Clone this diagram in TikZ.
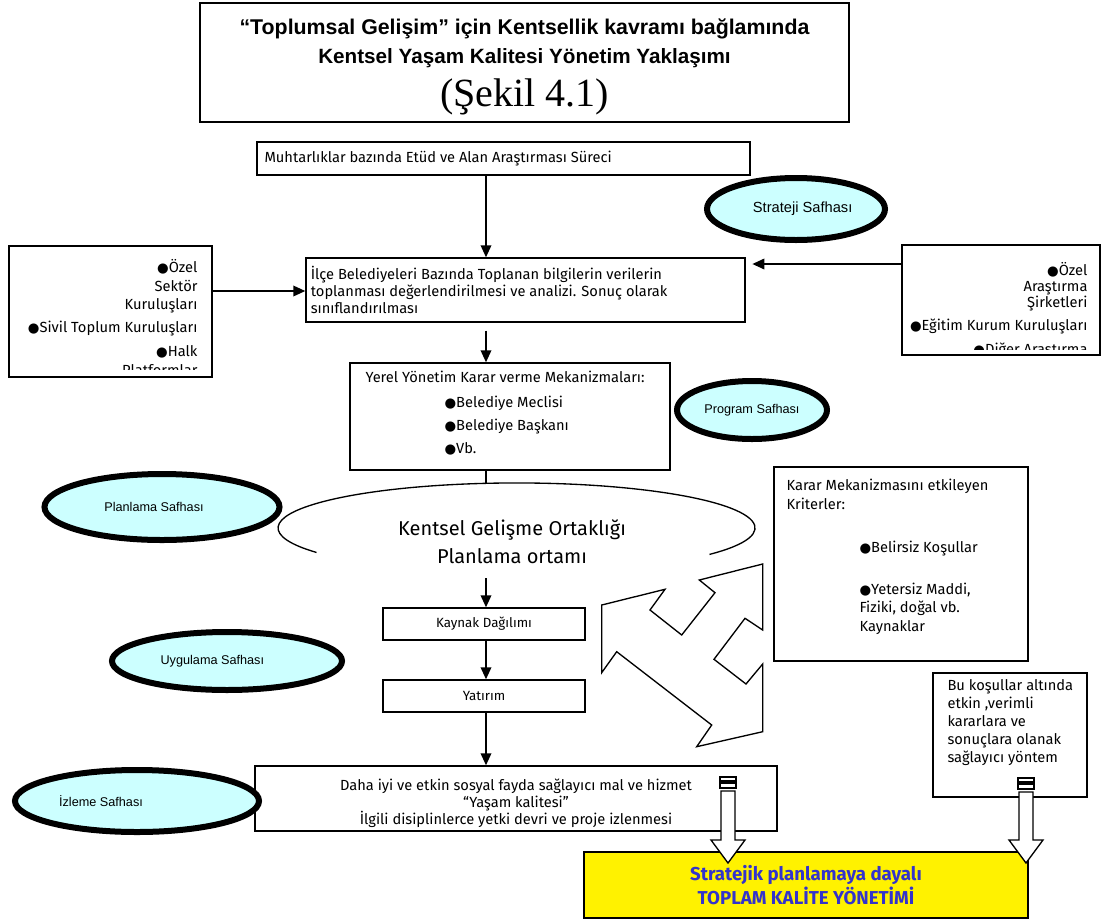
\documentclass[tikz,border=0pt]{standalone}
\usepackage{fontspec}
\setmainfont{Fira Sans}
\newfontfamily\arialf{Liberation Sans}
\newfontfamily\timesf{Liberation Serif}
\newfontfamily\symf{DejaVu Sans}
\usetikzlibrary{shapes.geometric,positioning,calc,arrows.meta}
\definecolor{phasecyan}{HTML}{CCFFFF}
\definecolor{tkyblue}{RGB}{51,51,204}
\newcommand{\blt}{{\symf\fontsize{10}{10}\selectfont ●}}

\begin{document}
\begin{tikzpicture}[x=0.75pt,y=-0.75pt,
  box/.style={draw,line width=1.1pt,inner sep=0pt},
  txt/.style={font=\fontsize{11}{13}\selectfont,inner sep=0pt},
  phase/.style={ellipse,draw,line width=4.5pt,fill=phasecyan,inner sep=0pt},
  phaselbl/.style={font=\arialf\fontsize{9.5}{11}\selectfont,inner sep=0pt},
  arr/.style={-{Triangle[length=9pt,width=8pt]},line width=1.1pt},
  hollow/.style={draw,fill=white,line width=1pt}]
\useasboundingbox (0,0) rectangle (1108,922);

% title
\node[box,minimum width=486.75pt,minimum height=89.25pt] (title) at (524.5,62.5) {};
\node[anchor=base,inner sep=0pt,font=\arialf\bfseries\fontsize{16}{19}\selectfont] (t1) at (524.5,34)
  {\textquotedblleft Toplumsal Geli\c{s}im\textquotedblright{} i\c{c}in Kentsellik kavram\i{} ba\u{g}lam\i{}nda};
\node[anchor=base,inner sep=0pt,font=\arialf\bfseries\fontsize{15.5}{19}\selectfont] (t2) at (524.5,63)
  {Kentsel Ya\c{s}am Kalitesi Y\"onetim Yakla\c{s}\i{}m\i{}};
\node[anchor=base,inner sep=0pt,font=\timesf\fontsize{30}{32}\selectfont] (t3) at (524.5,106) {(\c{S}ekil 4.1)};

% columns and rows for connectors
\coordinate (colA) at (486,0);
\coordinate (rowA) at (0,291);
\coordinate (rowB) at (0,264);

% stage 1
\node[box,minimum width=369.75pt,minimum height=24.75pt] (muhtar) at (503.5,158.5) {};
\node[txt,anchor=west] (muhtarT) at ([xshift=6pt]muhtar.west) {Muhtarl\i{}klar baz\i{}nda Et\"ud ve Alan Ara\c{s}t\i{}rmas\i{} S\"ureci};

\node[phase,minimum width=133.5pt,minimum height=46.5pt,
  label={[phaselbl,font=\arialf\fontsize{11}{13}\selectfont,xshift=5pt]center:Strateji Safhas\i{}}] (strat) at (796,209) {};

\node[box,minimum width=152.25pt,minimum height=98.25pt] (lbox) at (110.5,311.5) {};
\begin{scope}
\clip (lbox.north west) rectangle ([yshift=6pt]lbox.south east);
\node[txt,anchor=north east,align=right,font=\fontsize{11}{14}\selectfont] (lboxT) at ([shift={(-15,14)}]lbox.north east)
  {\blt\"Ozel\\Sekt\"or\\Kurulu\c{s}lar\i{}\\[3pt]\blt Sivil Toplum Kurulu\c{s}lar\i{}\\[4pt]\blt Halk\\Platformlar};
\end{scope}

\node[box,minimum width=329.25pt,minimum height=48pt] (ilce) at (525.5,290) {};
\node[txt,anchor=west,align=left] (ilceT) at ([xshift=4pt]ilce.west)
  {\.Il\c{c}e Belediyeleri Baz\i{}nda Toplanan bilgilerin verilerin\\toplanmas\i{} de\u{g}erlendirilmesi ve analizi. Sonu\c{c} olarak\\s\i{}n\i{}fland\i{}r\i{}lmas\i{}};

\node[box,minimum width=148.5pt,minimum height=82.5pt] (rbox) at (1001,300) {};
\begin{scope}
\clip (rbox.north west) rectangle ([yshift=5pt]rbox.south east);
\node[txt,anchor=north east,align=right,font=\fontsize{11}{12}\selectfont] (rboxT) at ([shift={(-13,18)}]rbox.north east)
  {\blt\"Ozel\\Ara\c{s}t\i{}rma\\\c{S}irketleri\\[5pt]\blt E\u{g}itim Kurum Kurulu\c{s}lar\i{}\\[6pt]\blt Di\u{g}er Ara\c{s}t\i{}rma};
\end{scope}

\draw[arr] (colA |- muhtar.south) -- (colA |- ilce.north);
\draw[arr] (rowA -| lbox.east) -- (rowA -| ilce.west);
\draw[arr] (rowB -| rbox.west) -- ([xshift=5pt]rowB -| ilce.east);

% stage 2
\node[box,minimum width=240pt,minimum height=80.25pt] (yerel) at (510,416.5) {};
\node[txt,anchor=north west] (yerelT) at ([shift={(16,9)}]yerel.north west) {Yerel Y\"onetim Karar verme Mekanizmalar\i{}:};
\node[txt,anchor=north west,align=left,font=\fontsize{11}{17.25}\selectfont] (yerelB) at ([shift={(95,34)}]yerel.north west)
  {\blt Belediye Meclisi\\\blt Belediye Ba\c{s}kan\i{}\\\blt Vb.};
\draw[arr,shorten <=6pt] (colA |- ilce.south) -- (colA |- yerel.north);

\node[phase,minimum width=112.5pt,minimum height=43.5pt,
  label={[phaselbl]center:Program Safhas\i{}}] (prog) at (752,410) {};

% planning ellipse, open at the bottom
\draw[line width=1pt] (709.5,554.4) arc[start angle=36,end angle=-213,x radius=238.5,y radius=45];
\node[txt,font=\fontsize{15}{21}\selectfont,align=center] (kgo) at (512,542) {Kentsel Geli\c{s}me Ortakl\i{}\u{g}\i{}\\Planlama ortam\i{}};
\coordinate (kgoTop) at (486,483);
\coordinate (kgoBot) at (486,578);
\draw[line width=1.1pt] (colA |- yerel.south) -- (kgoTop);

\node[phase,minimum width=176.25pt,minimum height=49.5pt,
  label={[phaselbl,xshift=-6pt]center:Planlama Safhas\i{}}] (plan) at (162,507) {};

% stage 3
\node[box,minimum width=151.5pt,minimum height=24pt,txt,font=\fontsize{10}{12}\selectfont] (kaynak) at (484,624) {Kaynak Da\u{g}\i{}l\i{}m\i{}};
\node[box,minimum width=151.5pt,minimum height=24pt,txt,font=\fontsize{10}{12}\selectfont] (yatirim) at (484,696) {Yat\i{}r\i{}m};
\draw[arr] (kgoBot) -- (colA |- kaynak.north);
\draw[arr] (colA |- kaynak.south) -- (colA |- yatirim.north);

\node[phase,minimum width=172.5pt,minimum height=43.5pt,
  label={[phaselbl,xshift=-11pt]center:Uygulama Safhas\i{}}] (uyg) at (227,661) {};

% four headed arrow
\draw[line width=1pt,fill=white] (601.7,605) -- (665,589.3) -- (650,610) -- (681.7,635) -- (715,592.7)
  -- (699.3,580) -- (762.7,564) -- (762.7,630) -- (745,618.3) -- (714,659.3) -- (746,684)
  -- (762.7,664) -- (762.7,731.7) -- (696.7,746.7) -- (711.7,725) -- (616.7,651.7)
  -- (601.7,672.7) -- cycle;

\node[box,minimum width=190.5pt,minimum height=145.5pt] (karar) at (901,564) {};
\node[txt,anchor=north west,align=left,font=\fontsize{11}{14}\selectfont] (kararT) at ([shift={(13,13)}]karar.north west)
  {Karar Mekanizmas\i{}n\i{} etkileyen\\Kriterler:};
\node[txt,anchor=north west,align=left,font=\fontsize{11}{14}\selectfont] (kararB) at ([shift={(86,75)}]karar.north west)
  {\blt Belirsiz Ko\c{s}ullar\\[17pt]\blt Yetersiz Maddi,\\Fiziki, do\u{g}al vb.\\Kaynaklar};

\node[box,minimum width=115.5pt,minimum height=93pt] (bukos) at (1010,735) {};
\node[txt,anchor=north west,align=left,font=\fontsize{11}{13.5}\selectfont] (bukosT) at ([shift={(15,7)}]bukos.north west)
  {Bu ko\c{s}ullar alt\i{}nda\\etkin ,verimli\\kararlara ve\\sonu\c{c}lara olanak\\sa\u{g}lay\i{}c\i{} y\"ontem};

% stage 4
\node[box,minimum width=391.5pt,minimum height=48.75pt] (daha) at (516,798.5) {};
\node[txt,align=center] (dahaT) at ([yshift=-3.5pt]daha.center)
  {Daha iyi ve etkin sosyal fayda sa\u{g}lay\i{}c\i{} mal ve hizmet\\\textquotedblleft Ya\c{s}am kalitesi\textquotedblright\\\.Ilgili disiplinlerce yetki devri ve proje izlenmesi};
\draw[arr] (colA |- yatirim.south) -- (colA |- daha.north);

\node[phase,minimum width=183pt,minimum height=46.5pt,
  label={[phaselbl,xshift=-27pt]center:\.Izleme Safhas\i{}}] (izle) at (137,801) {};

\node[box,fill=yellow,minimum width=333pt,minimum height=49.5pt,align=center,
  font=\bfseries\fontsize{14}{18}\selectfont,text=tkyblue] (tky) at (806,885) {Stratejik planlamaya dayal\i{}\\TOPLAM KAL\.ITE Y\"ONET\.IM\.I};

% hollow arrows into the yellow box
\foreach \ax/\tp in {728/777,1026/778}{
  \draw[hollow] (\ax-8,\tp) rectangle (\ax+8,\tp+4);
  \draw[hollow] (\ax-8,\tp+6) rectangle (\ax+8,\tp+11);
  \draw[hollow] (\ax-7,\tp+14) -- (\ax-7,840) -- (\ax-17,840) -- (\ax,863) -- (\ax+17,840)
    -- (\ax+7,840) -- (\ax+7,\tp+14) -- cycle;
}
\end{tikzpicture}
\end{document}
